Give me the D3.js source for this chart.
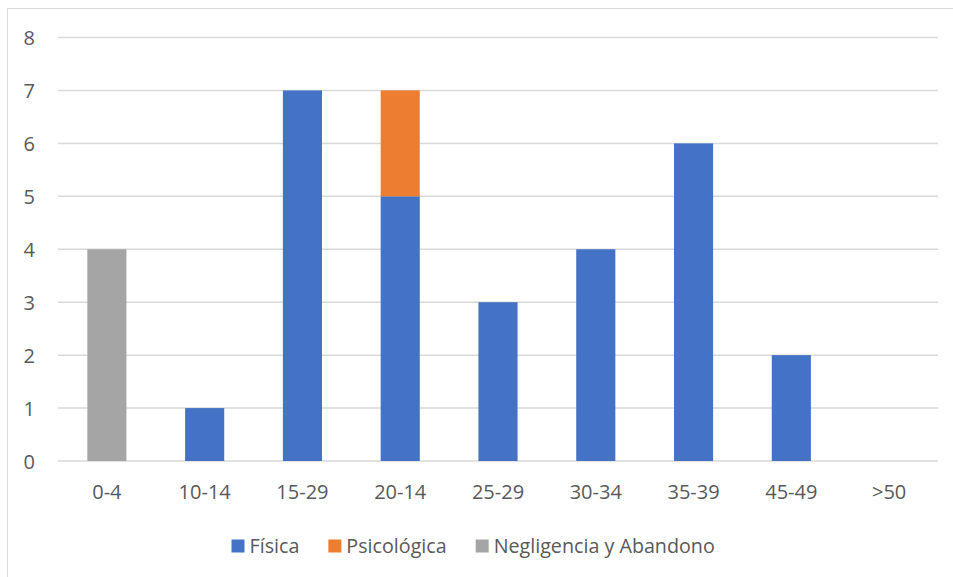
<!DOCTYPE html>
<html>
<head>
<meta charset="utf-8">
<script src="https://cdn.jsdelivr.net/npm/d3@7"></script>
<style>
  html, body { margin: 0; padding: 0; background: #fff; }
  svg text { font-family: "Open Sans", "Liberation Sans", sans-serif; fill: #595959; }
</style>
</head>
<body>
<svg id="chart" width="953" height="577"></svg>
<script>
const categories = ["0-4", "10-14", "15-29", "20-14", "25-29", "30-34", "35-39", "45-49", ">50"];
const fisica      = [0, 1, 7, 5, 3, 4, 6, 2, 0];
const psicologica = [0, 0, 0, 2, 0, 0, 0, 0, 0];
const negligencia = [4, 0, 0, 0, 0, 0, 0, 0, 0];
const seriesNames = ["Física", "Psicológica", "Negligencia y Abandono"];
const seriesColors = ["#4472C4", "#ED7D31", "#A5A5A5"];
const yTicks = [0, 1, 2, 3, 4, 5, 6, 7, 8];

const svg = d3.select("#chart");
const W = 953, H = 577;
const plot = { left: 58, right: 938, top: 37.5, bottom: 461 };

// outer chart border (cropped at right/bottom in the reference)
svg.append("rect")
  .attr("x", 7.5).attr("y", 8.5).attr("width", 1000).attr("height", 700)
  .attr("fill", "none").attr("stroke", "#D9D9D9").attr("stroke-width", 1);

const table = categories.map((c, i) => ({
  cat: c, "Física": fisica[i], "Psicológica": psicologica[i], "Negligencia y Abandono": negligencia[i]
}));
const stacked = d3.stack().keys(seriesNames)(table);

const x = d3.scaleBand().domain(categories).range([plot.left, plot.right])
  .paddingInner(0.6).paddingOuter(0.3);
const y = d3.scaleLinear().domain([0, 8]).range([plot.bottom, plot.top]);

// gridlines
svg.append("g").selectAll("line").data(yTicks).join("line")
  .attr("x1", plot.left).attr("x2", plot.right)
  .attr("y1", d => y(d)).attr("y2", d => y(d))
  .attr("stroke", "#D9D9D9").attr("stroke-width", 1.5);

// y axis labels
const yAxis = d3.axisLeft(y).tickValues(yTicks).tickSize(0).tickPadding(0);
const gy = svg.append("g").attr("transform", `translate(${35},0)`).call(yAxis);
gy.select(".domain").remove();
gy.selectAll("text").style("font-size", "20px").attr("fill", "#595959").attr("dy", "0.35em");

// bars
svg.append("g").selectAll("g").data(stacked).join("g")
  .attr("fill", (d, i) => seriesColors[i])
  .selectAll("rect").data(d => d.filter(p => p[1] - p[0] > 0)).join("rect")
  .attr("x", d => x(d.data.cat))
  .attr("width", x.bandwidth())
  .attr("y", d => y(d[1]))
  .attr("height", d => y(d[0]) - y(d[1]));

// x axis labels
const xAxis = d3.axisBottom(x).tickSize(0).tickPadding(0);
const gx = svg.append("g").attr("transform", `translate(0,${492})`).call(xAxis);
gx.select(".domain").remove();
gx.selectAll("text").style("font-size", "20px").attr("fill", "#595959").attr("dy", "0.35em");

// legend
const leg = svg.append("g");
const items = leg.selectAll("g").data(seriesNames).join("g");
items.append("rect").attr("width", 13).attr("height", 13).attr("y", -6.5)
  .attr("fill", (d, i) => seriesColors[i]);
items.append("text").attr("x", 18).attr("dy", "0.35em")
  .style("font-size", "19.7px").text(d => d);
let widths = [];
items.each(function() { widths.push(this.querySelector("text").getComputedTextLength() + 18); });
const gap = 29;
let pos = [];
let acc = 231.5;
widths.forEach((w, i) => { pos.push(acc); acc += w + gap; });
items.attr("transform", (d, i) => `translate(${pos[i]},${546})`);
</script>
</body>
</html>
